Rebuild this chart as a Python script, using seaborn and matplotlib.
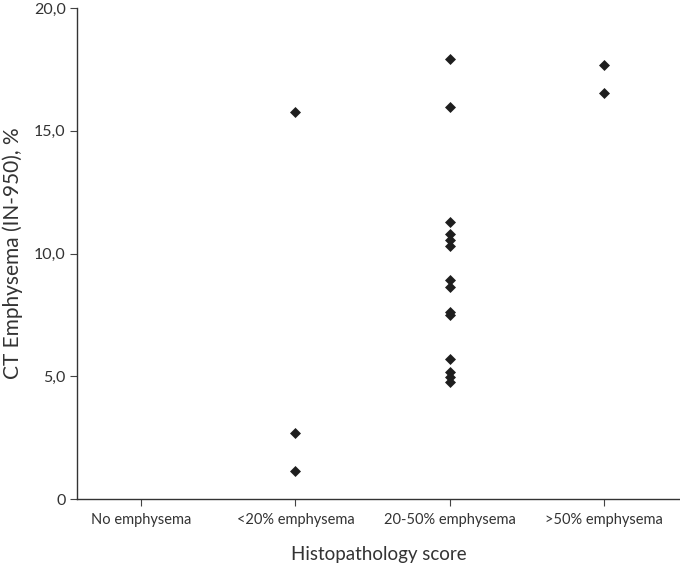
import matplotlib
matplotlib.use("Agg")
import matplotlib.pyplot as plt
import pandas as pd
import seaborn as sns
from matplotlib.ticker import FuncFormatter

# data
categories = ["No emphysema", "<20% emphysema", "20-50% emphysema", ">50% emphysema"]
lt20_vals = [15.75, 2.68, 1.15]
mid_vals = [17.92, 15.96, 11.30, 10.78, 10.55, 10.32, 8.92, 8.62, 7.63, 7.49,
            5.69, 5.19, 4.98, 4.78]
gt50_vals = [17.68, 16.53]
no_vals = []

frame = pd.DataFrame({
    "score": [categories[0]] * len(no_vals) + [categories[1]] * len(lt20_vals)
             + [categories[2]] * len(mid_vals) + [categories[3]] * len(gt50_vals),
    "ct": no_vals + lt20_vals + mid_vals + gt50_vals,
})

sns.set_style("white")
plt.rcParams["font.family"] = ["Lato", "DejaVu Sans"]

fig = plt.figure(figsize=(6.8, 5.66), dpi=100)
ax = fig.add_axes([0.113, 0.118, 0.887, 0.868])

sns.stripplot(data=frame, x="score", y="ct", order=categories, jitter=False,
              marker="D", s=5.6, color="#1e1e1e", linewidth=0, ax=ax)

ax.set_ylim(0, 20)
ax.set_xlim(-0.415, 3.49)
ax.set_yticks([0, 5, 10, 15, 20])
ax.yaxis.set_major_formatter(FuncFormatter(lambda v, p: "0" if v == 0 else f"{v:.1f}".replace(".", ",")))

sns.despine(ax=ax)
for side in ["left", "bottom"]:
    ax.spines[side].set_color("#333333")
    ax.spines[side].set_linewidth(1.0)
ax.tick_params(axis="both", direction="out", length=5, width=0.8, color="#444444",
               labelcolor="#333333", bottom=True, left=True)
ax.tick_params(axis="x", pad=5, labelsize=10.5)
ax.tick_params(axis="y", pad=3, labelsize=11.5)

ax.set_xlabel("Histopathology score", fontsize=13.5, color="#333333")
ax.xaxis.set_label_coords(0.5, -0.095)
ax.set_ylabel("CT Emphysema (IN-950), %", fontsize=15, color="#333333", labelpad=8)

fig.savefig("out.png", dpi=100)
